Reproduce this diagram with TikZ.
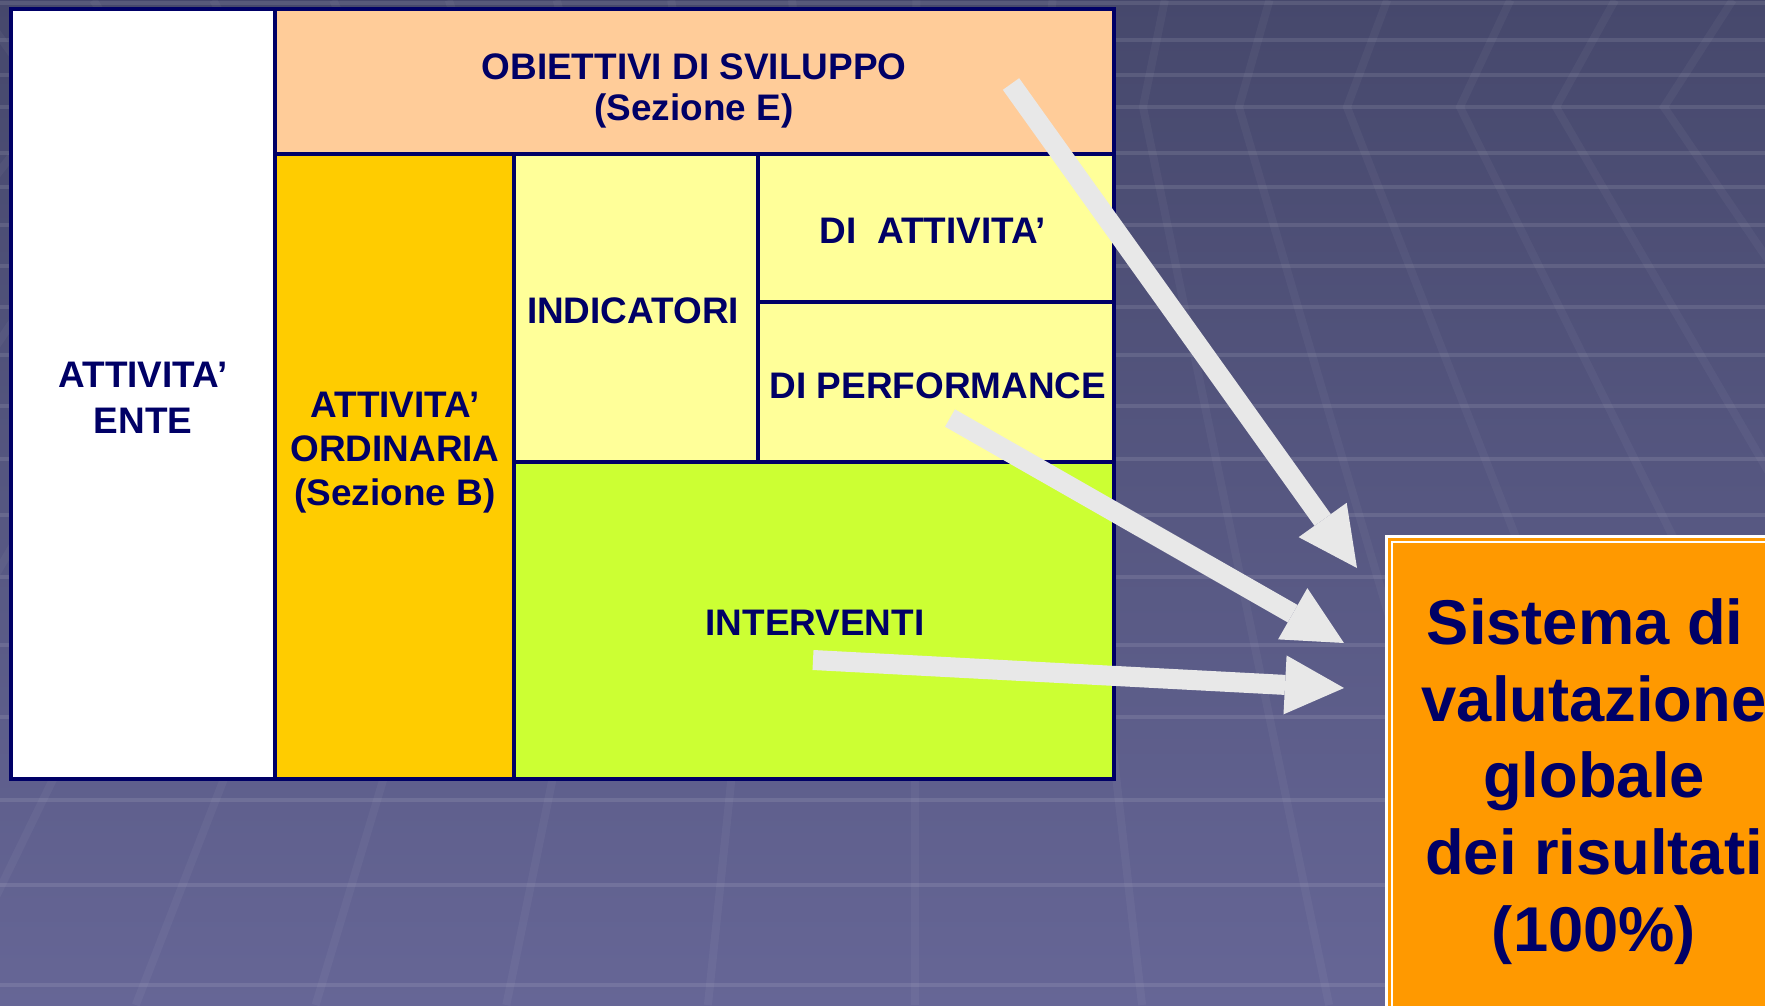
\documentclass[tikz,border=0pt]{standalone}
\usepackage{fontspec}
\setmainfont{Liberation Sans}
\usetikzlibrary{arrows.meta}

\definecolor{blunotte}{RGB}{0,0,102}
\definecolor{pesca}{RGB}{255,204,153}
\definecolor{oro}{RGB}{255,204,0}
\definecolor{giallino}{RGB}{255,255,153}
\definecolor{verdelime}{RGB}{204,255,51}
\definecolor{arancio}{RGB}{255,153,0}
\definecolor{grigio}{RGB}{232,232,232}
\definecolor{fondoalto}{RGB}{70,72,108}
\definecolor{fondobasso}{RGB}{102,102,150}

\begin{document}
\begin{tikzpicture}[x=0.01cm, y=-0.01cm,
    cella/.style={draw=blunotte, line width=0.035cm},
    testo/.style={text=blunotte, align=center, inner sep=0pt, anchor=base,
      font=\fontsize{10.5}{12.6}\selectfont\bfseries},
    freccia/.style={draw=grigio, line width=0.2cm,
      -{Triangle[length=0.59cm, width=0.59cm, line width=0pt]}}]
	\useasboundingbox (0,0) rectangle (1765,1005);

	% sfondo
	\shade[top color=fondoalto, bottom color=fondobasso] (0,0) rectangle (1765,1005);
	\foreach \y in {3,40,75,107,153,187,225,266,307,355,406,459,515,577,645,717,800,885,985}
		\draw[white, opacity=0.1, line width=0.04cm] (0,\y) -- (1765,\y);
	\foreach \k in {50,160,270,380,486,585,690,801,915,1040,1143,1239,1347,1460,1556,1664,1770}
		\draw[white, opacity=0.04, line width=0.08cm] ({\k+0.09*(\k-900)},0) -- (\k,107) -- ({\k+(\k-915)/1100*898},1005);

	% tabella
	\filldraw[cella, fill=white] (11,9) rectangle (275,779);
	\filldraw[cella, fill=pesca] (275,9) rectangle (1114,154);
	\filldraw[cella, fill=oro] (275,154) rectangle (514,779);
	\filldraw[cella, fill=giallino] (514,154) rectangle (758,462);
	\filldraw[cella, fill=giallino] (758,154) rectangle (1114,302);
	\filldraw[cella, fill=giallino] (758,302) rectangle (1114,462);
	\filldraw[cella, fill=verdelime] (514,462) rectangle (1114,779);

	\node[testo, font=\fontsize{10.5}{11.4}\selectfont\bfseries] (obiettivi) at (694,120) {OBIETTIVI DI SVILUPPO\\(Sezione E)};
	\node[testo, font=\fontsize{10.5}{13}\selectfont\bfseries] (ente) at (143,433) {ATTIVITA’\\ENTE};
	\node[testo, font=\fontsize{10.5}{12.5}\selectfont\bfseries] (ordinaria) at (395,505) {ATTIVITA’\\ORDINARIA\\(Sezione B)};
	\node[testo] (indicatori) at (633,323) {INDICATORI};
	\node[testo] (diattivita) at (933,243) {DI\ \ ATTIVITA’};
	\node[testo] (diperformance) at (938,398) {DI PERFORMANCE};
	\node[testo] (interventi) at (815,635) {INTERVENTI};

	% riquadro finale
	\fill[white] (1385,535) rectangle (1800,1040);
	\fill[arancio] (1388,538) rectangle (1800,1040);
	\draw[white, line width=0.015cm] (1392,542) rectangle (1810,1050);
	\node[testo, font=\fontsize{18}{21.8}\selectfont\bfseries] (sistema) at (1594,951) {Sistema di\kern0.28em\\valutazione\\globale\\dei risultati\\(100\%)};

	% frecce
	\coordinate (daobiettivi) at (1011,84);
	\coordinate (aobiettivi) at (1357,568);
	\coordinate (daperformance) at (950,418);
	\coordinate (aperformance) at (1344,643);
	\coordinate (dainterventi) at (813,660);
	\coordinate (ainterventi) at (1344,688);
	\draw[freccia] (daobiettivi) -- (aobiettivi);
	\draw[freccia] (daperformance) -- (aperformance);
	\draw[freccia] (dainterventi) -- (ainterventi);
\end{tikzpicture}
\end{document}
